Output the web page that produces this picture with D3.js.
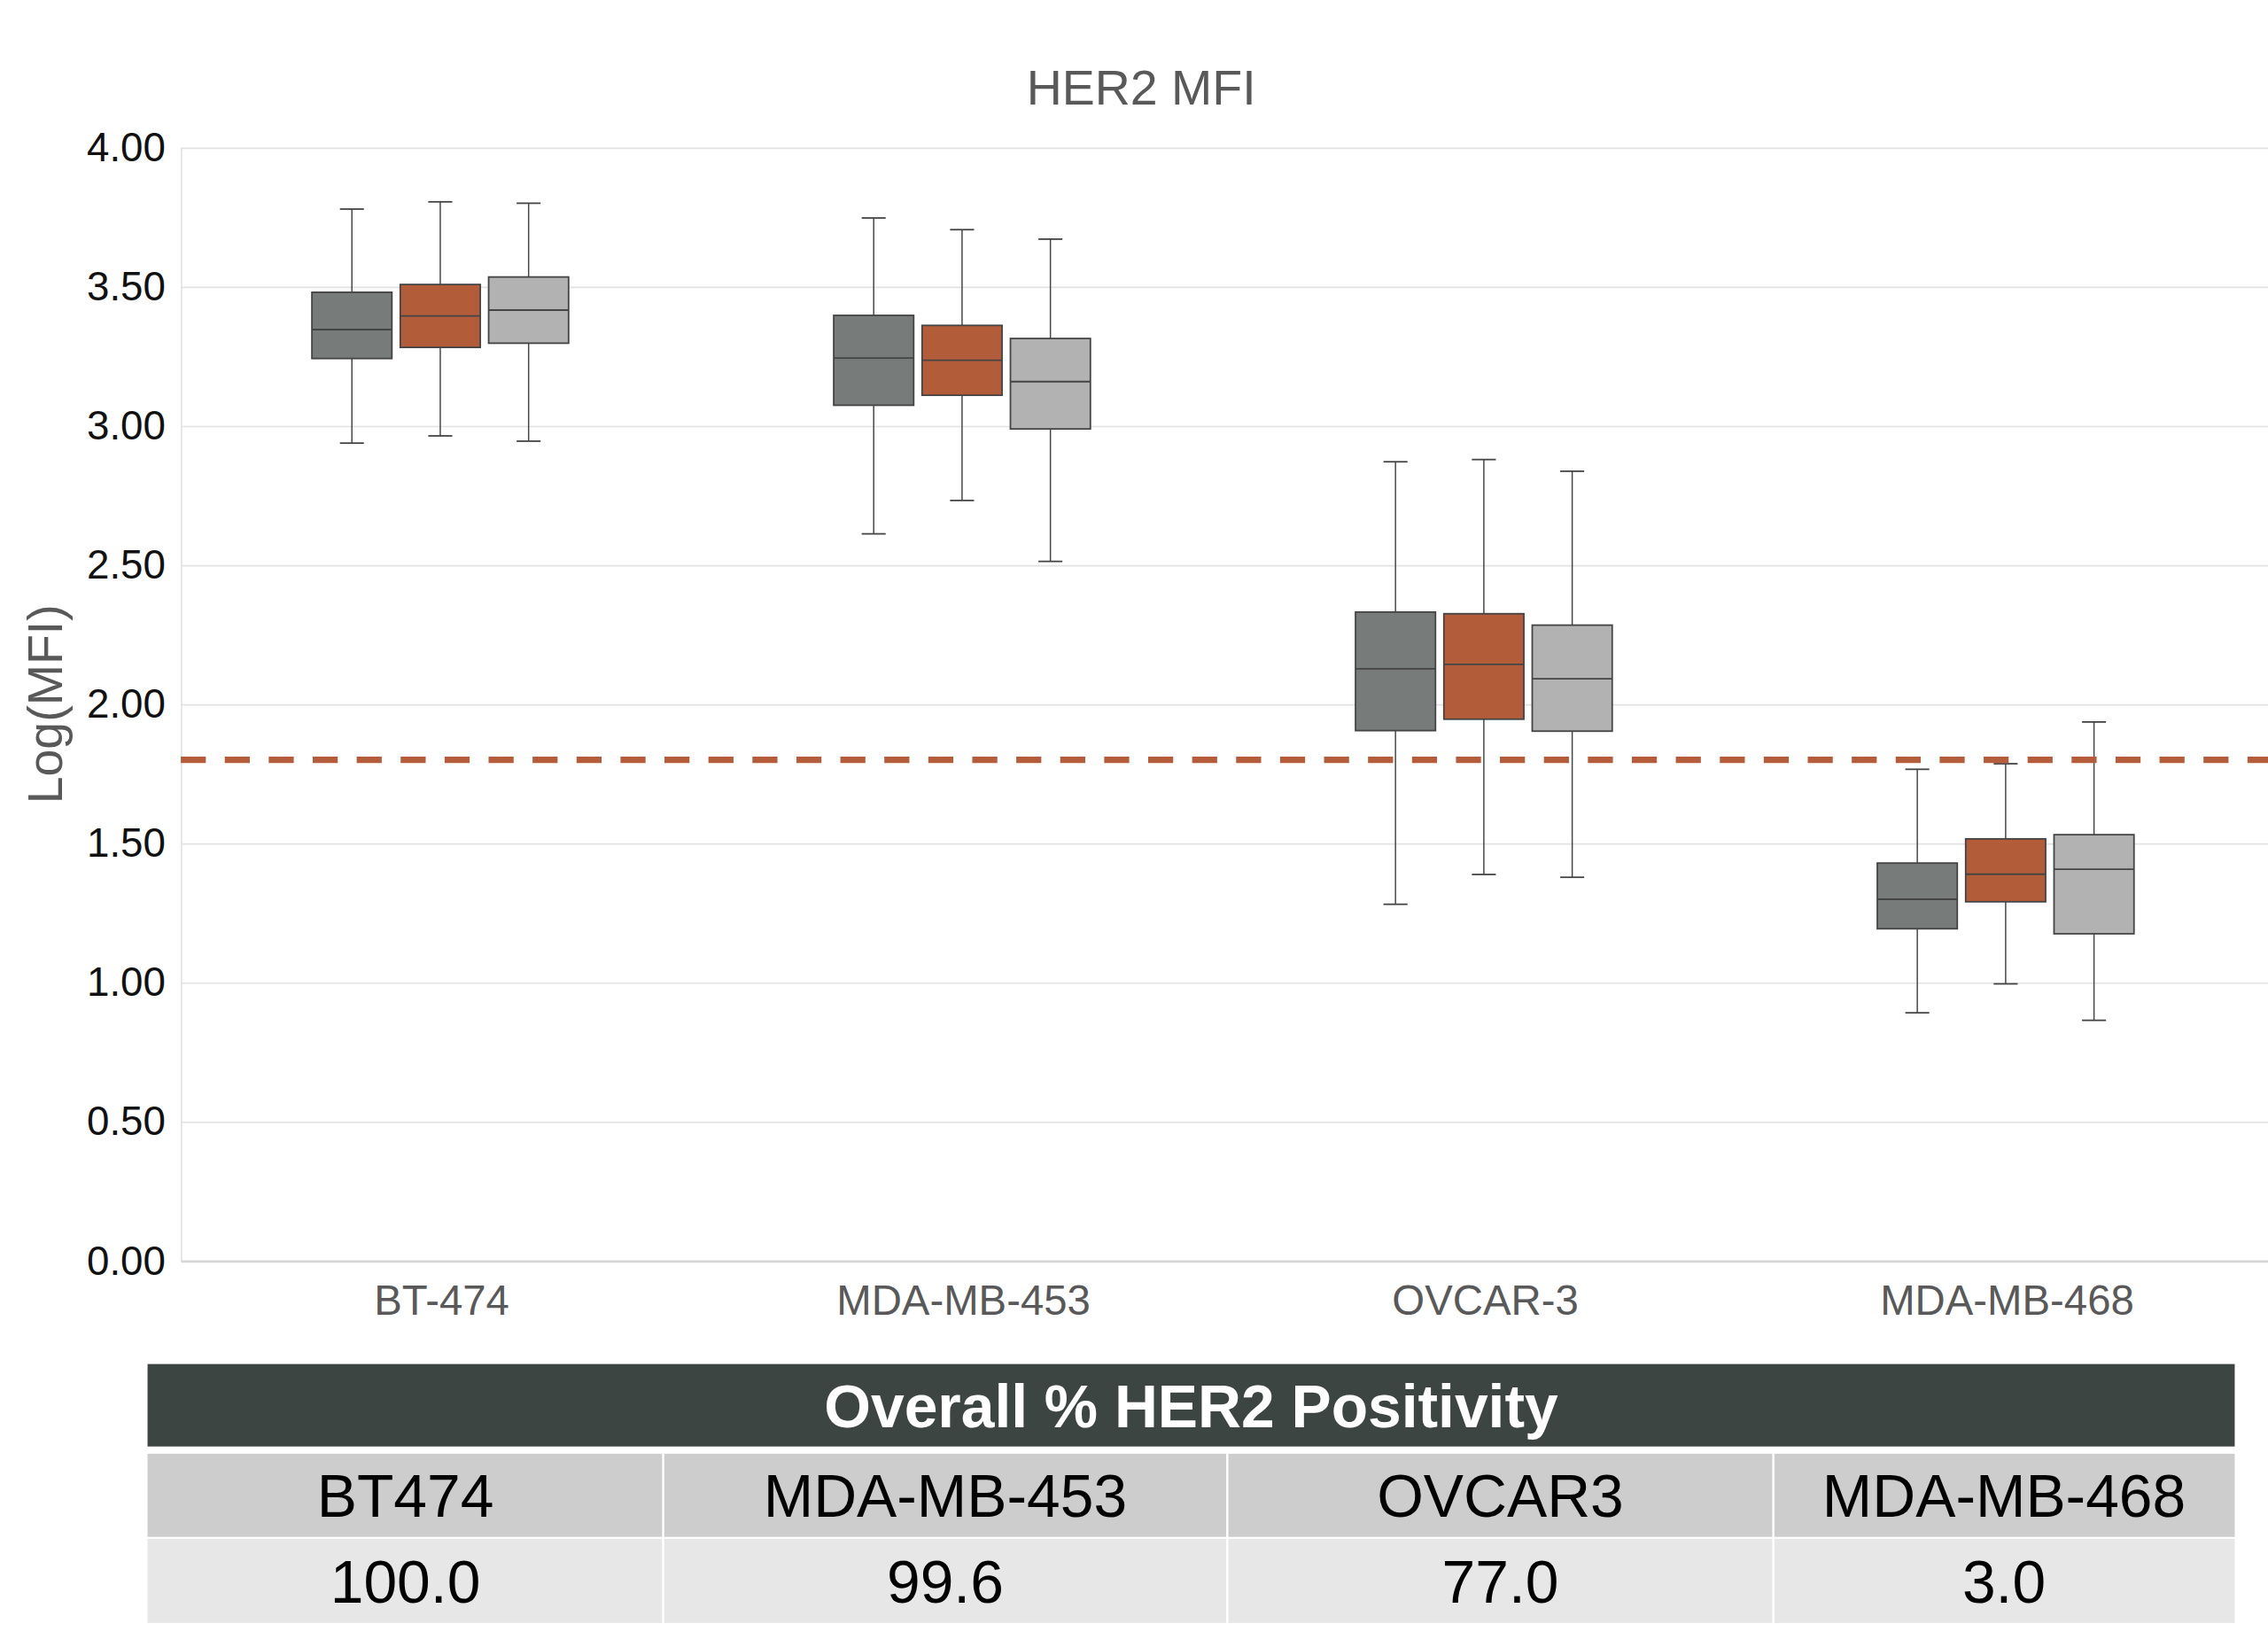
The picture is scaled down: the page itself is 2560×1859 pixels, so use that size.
<!DOCTYPE html>
<html>
<head>
<meta charset="utf-8">
<script src="https://cdn.jsdelivr.net/npm/d3@7"></script>
<style>
  html, body { margin: 0; padding: 0; background: #fff; }
  svg { display: block; font-family: "Liberation Sans", Arial, sans-serif; }
</style>
</head>
<body>
<div id="chart"></div>
<script>
// box plot data

const categories = ["BT-474", "MDA-MB-453", "OVCAR-3", "MDA-MB-468"];
const series = ["group1", "group2", "group3"];
const colors = ["#777b79", "#b35c3a", "#b2b2b2"];

// per series: one value per category
const whiskerLow = [
	[2.938, 2.612, 1.281, 0.891],
	[2.964, 2.732, 1.388, 0.995],
	[2.945, 2.513, 1.378, 0.864]
];
const q1 = [
	[3.242, 3.074, 1.905, 1.193],
	[3.282, 3.110, 1.946, 1.290],
	[3.297, 2.989, 1.903, 1.175]
];
const median = [
	[3.346, 3.244, 2.127, 1.299],
	[3.395, 3.236, 2.143, 1.389],
	[3.416, 3.159, 2.091, 1.407]
];
const q3 = [
	[3.480, 3.397, 2.331, 1.429],
	[3.508, 3.361, 2.325, 1.516],
	[3.535, 3.314, 2.284, 1.531]
];
const whiskerHigh = [
	[3.779, 3.747, 2.871, 1.766],
	[3.805, 3.705, 2.879, 1.786],
	[3.800, 3.671, 2.837, 1.936]
];

const yTicks = [0, 0.5, 1, 1.5, 2, 2.5, 3, 3.5, 4];
const threshold = 1.80;

const tableTitle = "Overall % HER2 Positivity";
const tableNames = ["BT474", "MDA-MB-453", "OVCAR3", "MDA-MB-468"];
const tableValues = [100.0, 99.6, 77.0, 3.0];

main();

function main() {
	// drawing units (scaled up to the 2560 px page by the viewBox)
	const width = 1568;
	const height = 1138.6;
	const margin = {top: 102, left: 125, right: 0, bottom: 267};
	const plotBottom = height - margin.bottom;

	const svg = d3.select("#chart").append("svg")
		.attr("width", 2560)
		.attr("height", 1859)
		.attr("viewBox", [0, 0, width, height]);

	const x0 = d3.scaleBand()
		.domain(categories)
		.range([margin.left, width - margin.right]);

	const groupWidth = x0.bandwidth() * 0.508;
	const x1 = d3.scaleBand()
		.domain(series)
		.range([-groupWidth / 2, groupWidth / 2])
		.paddingInner(0.095)
		.paddingOuter(0.0475);

	const y = d3.scaleLinear()
		.domain([0, 4])
		.range([plotBottom, margin.top]);

	// title
	svg.append("text")
		.attr("x", 789)
		.attr("y", 72)
		.attr("text-anchor", "middle")
		.attr("font-size", 34)
		.attr("fill", "#595959")
		.text("HER2 MFI");

	// grid lines
	svg.append("g")
		.attr("transform", `translate(${margin.left},0)`)
		.call(d3.axisLeft(y).tickValues(yTicks).tickSize(-(width - margin.left)).tickFormat(""))
		.call(g => g.select(".domain").remove())
		.call(g => g.selectAll(".tick line")
			.attr("stroke", "#e2e2e2")
			.attr("stroke-width", 1));

	// y axis
	svg.append("g")
		.attr("transform", `translate(${margin.left},0)`)
		.call(d3.axisLeft(y).tickValues(yTicks).tickFormat(d3.format(".2f")).tickSize(0).tickPadding(10.5))
		.call(g => g.select(".domain").attr("stroke", "#e2e2e2").attr("stroke-width", 1))
		.call(g => g.selectAll(".tick text")
			.attr("font-family", "'Liberation Sans', Arial, sans-serif")
			.attr("font-size", 28)
			.attr("fill", "#111"));

	svg.append("text")
		.attr("transform", `translate(43,${(margin.top + plotBottom) / 2}) rotate(-90)`)
		.attr("text-anchor", "middle")
		.attr("font-size", 34)
		.attr("fill", "#595959")
		.text("Log(MFI)");

	// x axis
	svg.append("g")
		.attr("transform", `translate(0,${plotBottom})`)
		.call(d3.axisBottom(x0).tickSize(0).tickPadding(17))
		.call(g => g.select(".domain").attr("stroke", "#d6d6d6").attr("stroke-width", 1.6))
		.call(g => g.selectAll(".tick text")
			.attr("font-family", "'Liberation Sans', Arial, sans-serif")
			.attr("font-size", 29)
			.attr("fill", "#595959"));

	// boxes
	const boxes = [];
	series.forEach((s, si) => {
		categories.forEach((c, ci) => {
			boxes.push({
				cat: c, ser: s, color: colors[si],
				lo: whiskerLow[si][ci], q1: q1[si][ci], med: median[si][ci],
				q3: q3[si][ci], hi: whiskerHigh[si][ci]
			});
		});
	});

	const bw = x1.bandwidth();
	const capW = bw * 0.3;
	const edge = "#444";

	const g = svg.append("g")
		.selectAll("g")
		.data(boxes)
		.join("g")
			.attr("transform", d => `translate(${x0(d.cat) + x0.bandwidth() / 2 + x1(d.ser) - 1},0)`);

	// whiskers
	g.append("line")
		.attr("x1", bw / 2).attr("x2", bw / 2)
		.attr("y1", d => y(d.hi)).attr("y2", d => y(d.q3))
		.attr("stroke", edge).attr("stroke-width", 0.9);
	g.append("line")
		.attr("x1", bw / 2).attr("x2", bw / 2)
		.attr("y1", d => y(d.q1)).attr("y2", d => y(d.lo))
		.attr("stroke", edge).attr("stroke-width", 0.9);
	g.append("line")
		.attr("x1", bw / 2 - capW / 2).attr("x2", bw / 2 + capW / 2)
		.attr("y1", d => y(d.hi)).attr("y2", d => y(d.hi))
		.attr("stroke", edge).attr("stroke-width", 1.1);
	g.append("line")
		.attr("x1", bw / 2 - capW / 2).attr("x2", bw / 2 + capW / 2)
		.attr("y1", d => y(d.lo)).attr("y2", d => y(d.lo))
		.attr("stroke", edge).attr("stroke-width", 1.1);

	// box + median
	g.append("rect")
		.attr("x", 0)
		.attr("width", bw)
		.attr("y", d => y(d.q3))
		.attr("height", d => y(d.q1) - y(d.q3))
		.attr("fill", d => d.color)
		.attr("stroke", edge)
		.attr("stroke-width", 1.1);
	g.append("line")
		.attr("x1", 0).attr("x2", bw)
		.attr("y1", d => y(d.med)).attr("y2", d => y(d.med))
		.attr("stroke", edge).attr("stroke-width", 1.1);

	// threshold line
	svg.append("line")
		.attr("x1", margin.left)
		.attr("x2", width)
		.attr("y1", y(threshold))
		.attr("y2", y(threshold))
		.attr("stroke", "#b55c3b")
		.attr("stroke-width", 4.5)
		.attr("stroke-dasharray", "17.3 13.1");

	drawTable(svg);
}

function drawTable(svg) {
	const colEdges = [102, 458.5, 848.5, 1226, 1545];
	const headTop = 943, headBottom = 1000;
	const row1 = [1005, 1062.5];
	const row2 = [1063.8, 1122];

	const tx = d3.scaleOrdinal().domain(tableNames).range(colEdges.slice(0, -1));
	const tw = (d, i) => colEdges[i + 1] - colEdges[i];

	svg.append("rect")
		.attr("x", colEdges[0])
		.attr("y", headTop)
		.attr("width", colEdges[4] - colEdges[0])
		.attr("height", headBottom - headTop)
		.attr("fill", "#3d4542");

	svg.append("text")
		.attr("x", (colEdges[0] + colEdges[4]) / 2)
		.attr("y", (headTop + headBottom) / 2)
		.attr("dy", "0.36em")
		.attr("text-anchor", "middle")
		.attr("font-size", 41.5)
		.attr("font-weight", "bold")
		.attr("fill", "#fff")
		.text(tableTitle);

	const rows = [
		{vals: tableNames, top: row1[0], bottom: row1[1], fill: "#cdcdcd"},
		{vals: tableValues.map(d3.format(".1f")), top: row2[0], bottom: row2[1], fill: "#e7e7e7"}
	];

	rows.forEach(r => {
		const cells = svg.append("g")
			.selectAll("g")
			.data(r.vals)
			.join("g")
				.attr("transform", (d, i) => `translate(${tx(tableNames[i])},${r.top})`);

		cells.append("rect")
			.attr("width", (d, i) => tw(d, i))
			.attr("height", r.bottom - r.top)
			.attr("fill", r.fill);

		cells.append("text")
			.attr("x", (d, i) => tw(d, i) / 2)
			.attr("y", (r.bottom - r.top) / 2)
			.attr("dy", "0.36em")
			.attr("text-anchor", "middle")
			.attr("font-size", 41.5)
			.attr("fill", "#000")
			.text(d => d);
	});

	// white column dividers
	svg.append("g")
		.selectAll("line")
		.data(colEdges.slice(1, -1))
		.join("line")
			.attr("x1", d => d).attr("x2", d => d)
			.attr("y1", row1[0]).attr("y2", row2[1])
			.attr("stroke", "#fff")
			.attr("stroke-width", 1.5);
}
</script>
</body>
</html>
